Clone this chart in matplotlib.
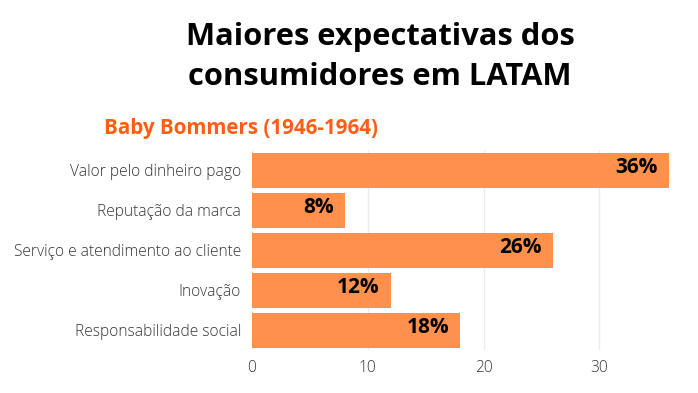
import matplotlib.pyplot as plt

plt.rcParams['font.family'] = ['Open Sans', 'DejaVu Sans']

categorias = ["Valor pelo dinheiro pago", "Reputação da marca",
              "Serviço e atendimento ao cliente", "Inovação",
              "Responsabilidade social"]
valores = [36, 8, 26, 12, 18]
ticks_x = [0, 10, 20, 30]

fig = plt.figure(figsize=(6.98, 3.93), dpi=100)
ax = fig.add_axes([252/698, 1-350/393, (668.7-252)/698, 200/393])

pos = list(range(len(categorias)))
ax.barh(pos, valores, height=0.875, color="#FF914D", zorder=2)
for p, v in zip(pos, valores):
    ax.text(v - 0.95, p + 0.07, f"{v}%", ha="right", va="baseline",
            fontsize=15, fontweight="bold", color="black", zorder=3)

ax.set_xlim(0, 36)
ax.set_ylim(4.5, -0.5)
ax.set_yticks(pos)
ax.set_yticklabels(categorias, fontsize=11.2, fontweight="light", color="#333333")
ax.set_xticks(ticks_x)
ax.set_xticklabels([str(t) for t in ticks_x], fontsize=11.2, fontweight="light", color="#333333")
ax.tick_params(length=0, pad=8)
ax.tick_params(axis="x", pad=7)
ax.grid(axis="x", color="#ebebeb", linewidth=1, zorder=0)
for s in ax.spines.values():
    s.set_visible(False)

fig.text(380/698, 1-57/393, "Maiores expectativas dos\nconsumidores em LATAM",
         ha="center", va="center", fontsize=22.2, fontweight="bold",
         color="black", linespacing=1.45)
fig.text(104/698, 1-128.5/393, "Baby Bommers (1946-1964)", ha="left", va="center",
         fontsize=14.8, fontweight="bold", color="#FF5E14")

fig.savefig("out.png", dpi=100)
